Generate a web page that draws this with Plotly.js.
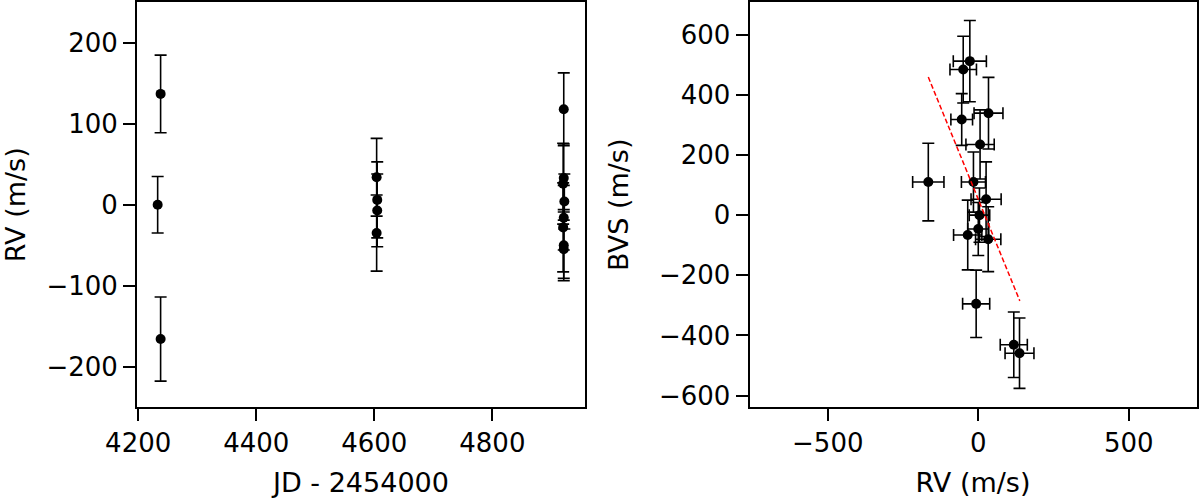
<!DOCTYPE html>
<html>
<head>
<meta charset="utf-8">
<script src="https://cdn.plot.ly/plotly-3.0.1.min.js"></script>
<style>html,body{margin:0;padding:0;background:#fff;}#chart{width:1200px;height:498px;}</style>
</head>
<body>
<div id="chart"></div>
<script>
// Observation epochs (JD - 2454000)
const jd = [4238, 4233, 4238, 4604, 4605, 4605, 4604, 4921, 4921, 4920, 4922, 4921, 4920, 4921, 4921];
// Radial velocities (m/s) and their errors
const rv = [137, 0, -166, 34, 6, -7, -35, 118, 33, 26, 4, -16, -28, -50, -55];
const rvErr = [48, 35, 52, 48, 47, 45, 47, 45, 42, 50, 34, 40, 55, 44, 36];
// Bisector velocity span (m/s) and errors
const bvs = [-459, -46, 110, 339, 235, -295, -66, -431, -80, 53, 0, 110, 512, 484, 318];
const bvsErr = [117, 88, 129, 119, 115, 112, 116, 109, 108, 124, 90, 100, 135, 111, 86];
// Linear fit BVS vs RV (endpoints)
const fitRV = [-166, 138];
const fitBVS = [459, -285];

const FONT = 'DejaVu Sans, sans-serif';
const tickFont = {family: FONT, size: 26, color: '#000'};
const titleFont = {family: FONT, size: 27, color: '#000'};

const errStyle = {type: 'data', visible: true, color: '#000', thickness: 1.6, width: 6};

const traces = [
  {
    x: jd, y: rv, type: 'scatter', mode: 'markers',
    marker: {color: '#000', size: 10},
    error_y: Object.assign({array: rvErr}, errStyle),
    xaxis: 'x', yaxis: 'y', showlegend: false, hoverinfo: 'skip'
  },
  {
    x: rv, y: bvs, type: 'scatter', mode: 'markers',
    marker: {color: '#000', size: 10},
    error_x: Object.assign({array: rvErr}, errStyle),
    error_y: Object.assign({array: bvsErr}, errStyle),
    xaxis: 'x2', yaxis: 'y2', showlegend: false, hoverinfo: 'skip'
  },
  {
    x: fitRV, y: fitBVS, type: 'scatter', mode: 'lines',
    line: {color: 'red', width: 1.5, dash: '5px,2.5px'},
    xaxis: 'x2', yaxis: 'y2', showlegend: false, hoverinfo: 'skip'
  }
];

const axBase = {
  showgrid: false, zeroline: false, showline: true, mirror: true,
  linecolor: '#000', linewidth: 2, ticks: 'outside', ticklen: 12, tickwidth: 2,
  tickcolor: '#000', tickfont: tickFont, automargin: false
};

const yDom = [0.1827, 0.995];

const layout = {
  width: 1200, height: 498,
  margin: {l: 0, r: 0, t: 0, b: 0},
  paper_bgcolor: '#fff', plot_bgcolor: '#fff',
  font: {family: FONT, color: '#000'},
  xaxis: Object.assign({}, axBase, {
    domain: [137/1200, 585/1200], range: [4198, 4957],
    tick0: 4200, dtick: 200, anchor: 'y',
    title: {text: 'JD - 2454000', font: titleFont, standoff: 16}
  }),
  yaxis: Object.assign({}, axBase, {
    domain: yDom, range: [-250, 250], tick0: 0, dtick: 100, anchor: 'x',
    title: {text: 'RV (m/s)', font: titleFont, standoff: 22}
  }),
  xaxis2: Object.assign({}, axBase, {
    domain: [749.5/1200, 1196.5/1200], range: [-760, 725],
    tick0: 0, dtick: 500, anchor: 'y2',
    title: {text: 'RV (m/s)', font: titleFont, standoff: 16}
  }),
  yaxis2: Object.assign({}, axBase, {
    domain: yDom, range: [-638, 707], tick0: 0, dtick: 200, anchor: 'x2',
    title: {text: 'BVS (m/s)', font: titleFont, standoff: 22}
  })
};

Plotly.newPlot('chart', traces, layout, {displayModeBar: false, staticPlot: true});
</script>
</body>
</html>
